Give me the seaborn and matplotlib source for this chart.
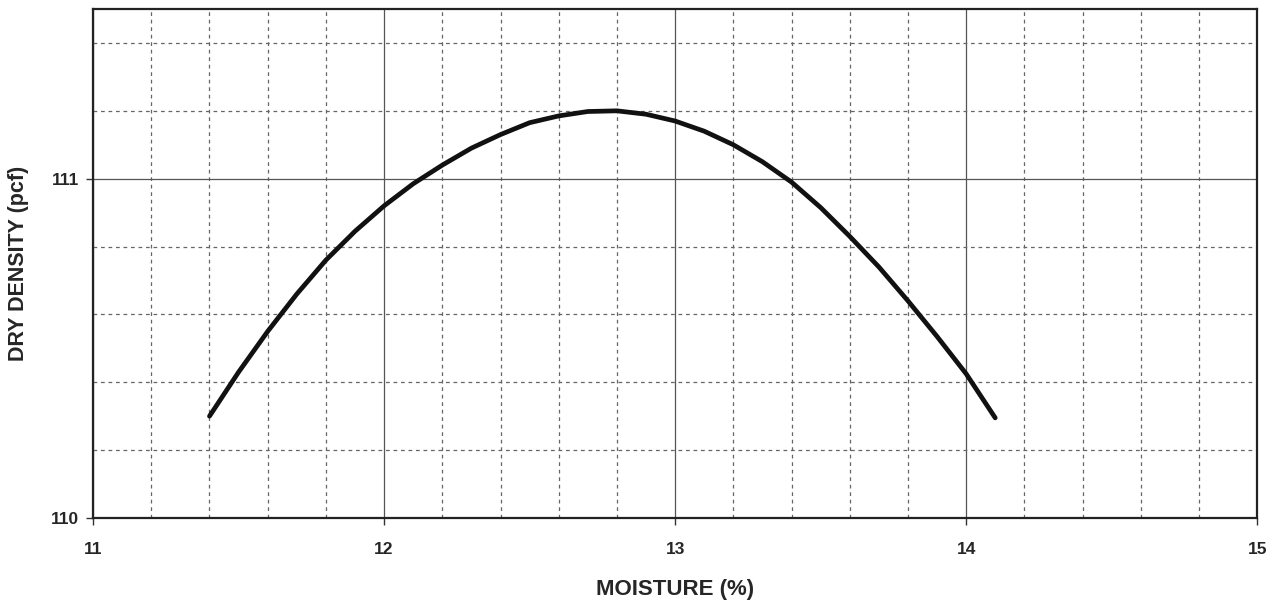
import pandas as pd
import seaborn as sns
import matplotlib
matplotlib.use('Agg')
import matplotlib.pyplot as plt
from matplotlib.ticker import MultipleLocator

moisture = [11.4, 11.5, 11.6, 11.7, 11.8, 11.9, 12.0, 12.1, 12.2, 12.3, 12.4,
            12.5, 12.6, 12.7, 12.8, 12.9, 13.0, 13.1, 13.2, 13.3, 13.4, 13.5,
            13.6, 13.7, 13.8, 13.9, 14.0, 14.1]
dry_density = [110.30, 110.43, 110.55, 110.66, 110.76, 110.845, 110.92, 110.985,
               111.04, 111.09, 111.13, 111.165, 111.185, 111.198, 111.20, 111.19,
               111.17, 111.14, 111.10, 111.05, 110.99, 110.915, 110.83, 110.74,
               110.64, 110.535, 110.425, 110.295]

df = pd.DataFrame({'moisture': moisture, 'density': dry_density})

sns.set_style('white')
plt.rcParams['font.family'] = ['Liberation Sans', 'DejaVu Sans']
plt.rcParams['font.weight'] = 'bold'

fig = plt.figure(figsize=(12.75, 6.03), dpi=100)
ax = fig.add_axes([0.073, 0.141, 0.913, 0.844])

sns.lineplot(data=df, x='moisture', y='density', color='#111111', linewidth=3.4,
             ax=ax, zorder=5, solid_joinstyle='round', solid_capstyle='round')

ax.set_xlim(11, 15)
ax.set_ylim(110, 111.5)
ax.xaxis.set_major_locator(MultipleLocator(1))
ax.xaxis.set_minor_locator(MultipleLocator(0.2))
ax.yaxis.set_major_locator(MultipleLocator(1))
ax.yaxis.set_minor_locator(MultipleLocator(0.2))

ax.grid(which='major', color='#555555', linewidth=0.9, linestyle='-')
ax.grid(which='minor', color='#666666', linewidth=0.9, linestyle=(0, (3, 3)))
ax.set_axisbelow(True)

ax.tick_params(which='major', direction='out', length=5, width=1, color='#333333',
               labelsize=12.5, bottom=True, left=True)
ax.tick_params(which='minor', length=0)
ax.tick_params(axis='x', pad=12)
ax.tick_params(axis='y', pad=5)

for s in ax.spines.values():
    s.set_color('#222222')
    s.set_linewidth(1.6)

ax.set_xlabel('MOISTURE (%)', fontsize=16, fontweight='bold', labelpad=16)
ax.set_ylabel('DRY DENSITY (pcf)', fontsize=15.5, fontweight='bold', labelpad=16)

fig.savefig('out.png', dpi=100)
